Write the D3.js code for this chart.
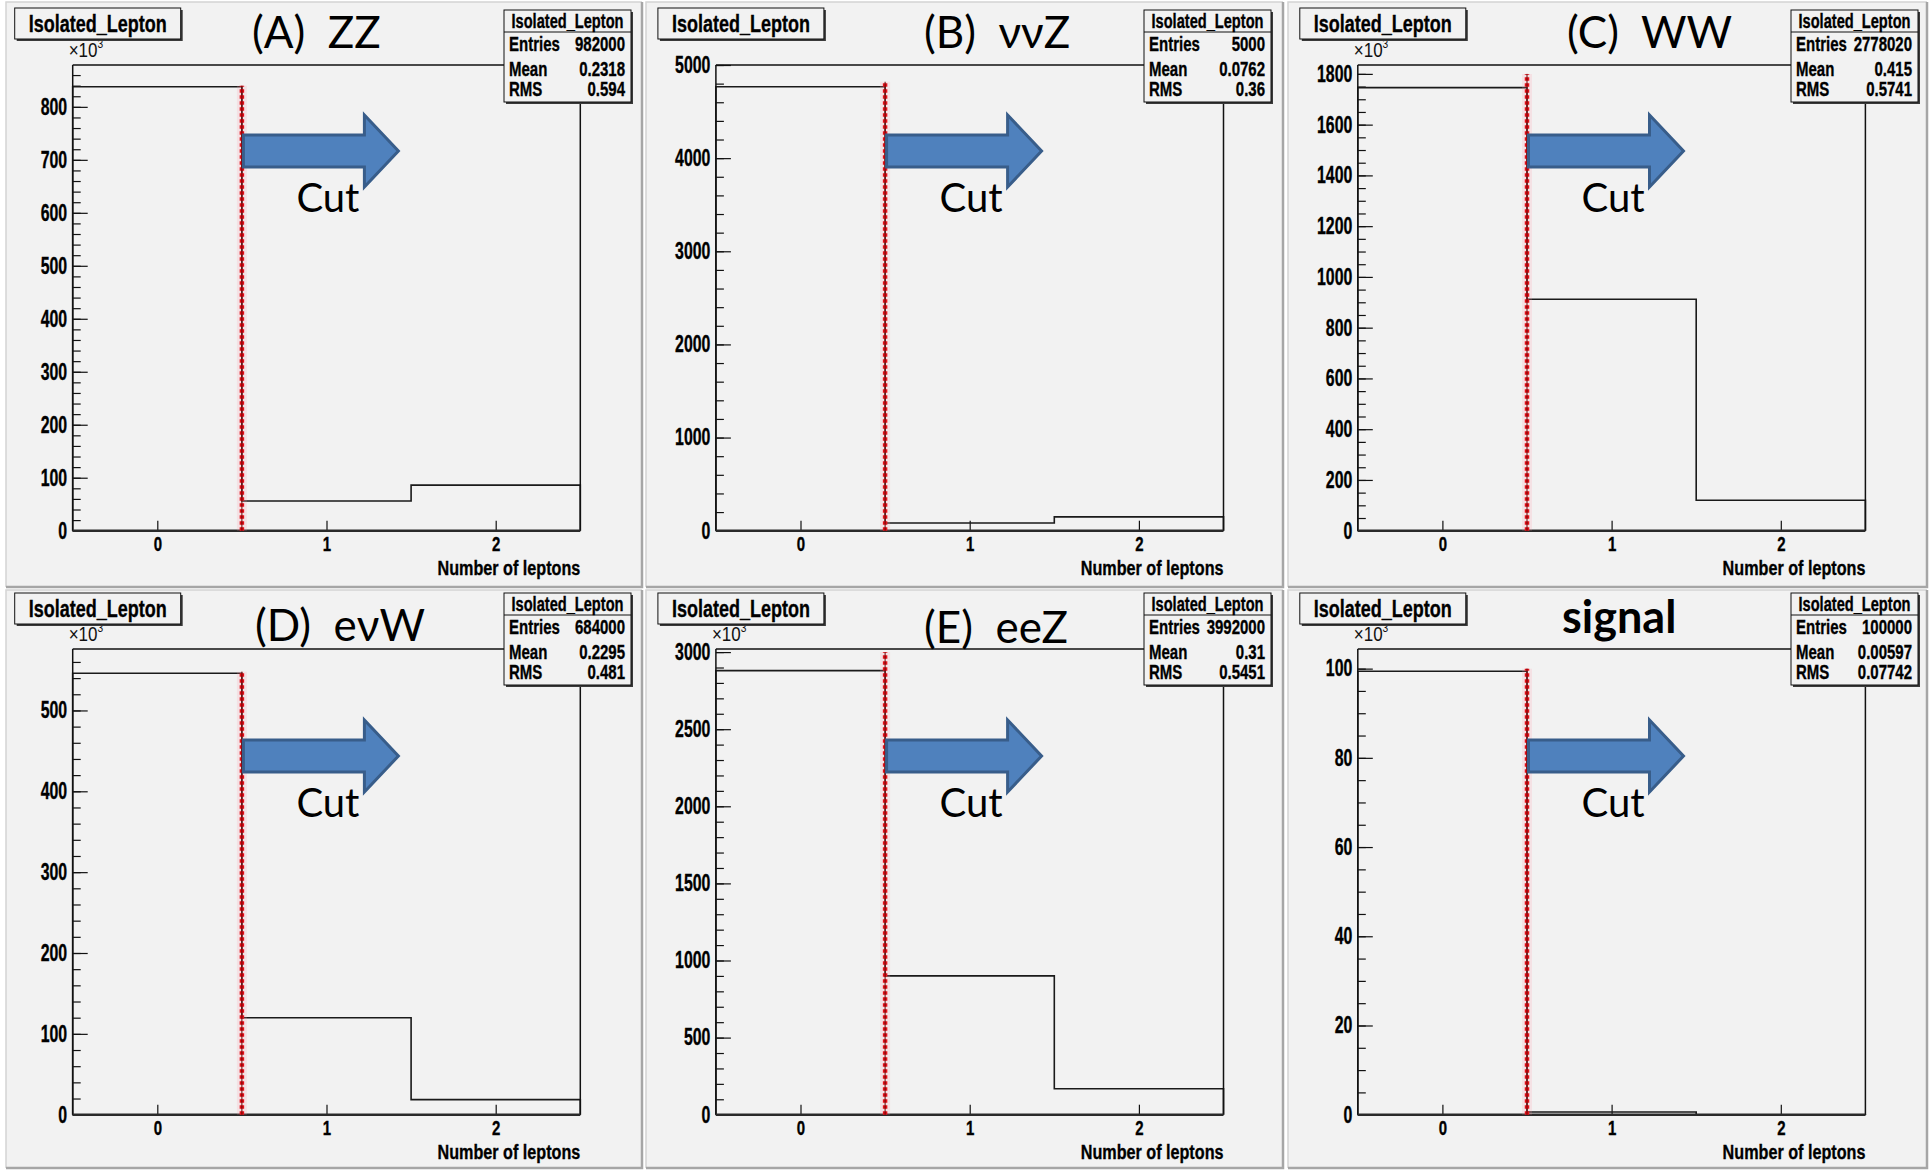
<!DOCTYPE html>
<html><head><meta charset="utf-8">
<script src="https://cdn.jsdelivr.net/npm/d3@7"></script>
<style>
html,body{margin:0;padding:0;background:#fff;}
svg{display:block;}
text{white-space:pre;}
</style></head><body>
<svg id="chart" width="1932" height="1171"></svg>
<script>
// ---------------- data ----------------
const panelIds = ["A", "B", "C", "D", "E", "F"];
const titles = ["(A)  ZZ", "(B)  \u03bd\u03bdZ", "(C)  WW", "(D)  e\u03bdW", "(E)  eeZ", "signal"];
const titleBold = [false, false, false, false, false, true];
const histName = "Isolated_Lepton";
const xLabel = "Number of leptons";
const binCenters = [0, 1, 2];
const xTickValues = [0, 1, 2];
// bin contents (in units shown on each y axis; x10^3 where marked)
const bin0 = [838, 4767, 1746, 546, 2880, 99.4];
const bin1 = [56, 82, 912, 120, 900, 0.59];
const bin2 = [86, 148, 120, 18.6, 168, 0.003];
const yMax = [879, 5000, 1835, 576, 3020, 104.4];
const yMajorStep = [100, 1000, 200, 100, 500, 20];
const yMinorStep = [20, 200, 50, 20, 100, 5];
const showExp = [true, false, true, true, true, true];
const statEntries = ["982000", "5000", "2778020", "684000", "3992000", "100000"];
const statMean = ["0.2318", "0.0762", "0.415", "0.2295", "0.31", "0.00597"];
const statRMS = ["0.594", "0.36", "0.5741", "0.481", "0.5451", "0.07742"];
const cutValue = 0.5;
const cutTop = [840, 4820, 1800, 548, 3000, 100];
const cutText = "Cut";

// ---------------- layout ----------------
const svg = d3.select("#chart");
const SANS = "'Liberation Sans',Arial,sans-serif";
const SX = 0.75; // horizontal compression -> condensed look
const CAL = "Lato,'Open Sans','DejaVu Sans',sans-serif";

const colPanelX = [6, 646, 1288], colPanelW = [636, 637, 639];
const rowPanelY = [2, 590], rowPanelH = [585, 578];
const colFrameL = [72.7, 715.9, 1357.8], frameW = 507.6;
const rowFrameT = [65, 649], frameH = 465.7;
const colStatsR = [631, 1271, 1918];
const statsW = 127, statsH = 92;
const rowStatsT = [10, 593];
const rowTitleBoxT = [8, 593];
const titleX = [252, 924, 1567, 255, 924, 1562];
const titleY = [48, 48, 48, 641, 643, 633];
const rowArrowY = [151, 756];
const rowCutY = [212, 817];

const PANEL_BG = "#f2f2f2";

function ntext(parent, x, y, s, size, anchor, bold = true, sx = SX) {
  const gg = parent.append("g").attr("transform", `translate(${x},${y}) scale(${sx},1)`);
  const t = gg.append("text").attr("text-anchor", anchor).attr("font-family", SANS)
    .attr("font-weight", bold ? "bold" : "normal").attr("font-size", size).attr("fill", "#000").text(s);
  if (bold) t.attr("stroke", "#000").attr("stroke-width", 0.35);
  return t;
}

panelIds.forEach((id, i) => {
  const col = i % 3, row = Math.floor(i / 3);
  const g = svg.append("g").attr("class", "panel-" + id);

  // pad background with bevel
  const px = colPanelX[col], py = rowPanelY[row], pw = colPanelW[col], ph = rowPanelH[row];
  g.append("rect").attr("x", px).attr("y", py).attr("width", pw).attr("height", ph).attr("fill", PANEL_BG);
  g.append("path").attr("d", `M${px},${py + ph} L${px},${py} L${px + pw},${py}`)
    .attr("fill", "none").attr("stroke", "#d4d4d4").attr("stroke-width", 1.5);
  g.append("path").attr("d", `M${px},${py + ph} L${px + pw},${py + ph} L${px + pw},${py}`)
    .attr("fill", "none").attr("stroke", "#a6a6a6").attr("stroke-width", 2.5);

  const fl = colFrameL[col], fr = fl + frameW;
  const ft = rowFrameT[row], fb = ft + frameH;
  const x = d3.scaleLinear().domain([-0.5, 2.5]).range([fl, fr]);
  const y = d3.scaleLinear().domain([0, yMax[i]]).range([fb, ft]);

  const sR = colStatsR[col], sL = sR - statsW, sT = rowStatsT[row], sB = sT + statsH;

  // y axis minor ticks
  const eps = 1e-9;
  const minors = d3.range(0, yMax[i] + eps, yMinorStep[i]);
  const majors = d3.range(0, yMax[i] + eps, yMajorStep[i]);
  const yMinorAxis = d3.axisLeft(y).tickValues(minors).tickSize(-8).tickFormat("");
  const gm = g.append("g").attr("transform", `translate(${fl},0)`).call(yMinorAxis);
  gm.select(".domain").remove();
  gm.selectAll("line").attr("stroke", "#111").attr("stroke-width", 1.2);

  const YSX = 0.69;
  const yAxis = d3.axisLeft(y).tickValues(majors).tickSize(-15).tickPadding(8).tickFormat(d3.format("d"));
  const ga = g.append("g").attr("transform", `translate(${fl},0)`).call(yAxis);
  ga.select(".domain").remove();
  ga.selectAll("line").attr("stroke", "#111").attr("stroke-width", 1.2);
  ga.selectAll("text").attr("font-family", SANS).attr("font-weight", "bold")
    .attr("font-size", 23).attr("fill", "#000").attr("stroke", "#000").attr("stroke-width", 0.35)
    .attr("transform", `scale(${YSX},1)`);

  // x axis
  const xAxis = d3.axisBottom(x).tickValues(xTickValues).tickSize(-10).tickPadding(6).tickFormat(d3.format("d"));
  const gx = g.append("g").attr("transform", `translate(0,${fb})`).call(xAxis);
  gx.select(".domain").remove();
  gx.selectAll("line").attr("stroke", "#111").attr("stroke-width", 1.2);
  gx.selectAll("text").attr("font-family", SANS).attr("font-weight", "bold")
    .attr("font-size", 20).attr("fill", "#000").attr("stroke", "#000").attr("stroke-width", 0.35)
    .attr("transform", `scale(${SX},1)`);

  ntext(g, fr, fb + 44, xLabel, 21, "end", true, 0.77);

  // exponent label
  if (showExp[i]) {
    const t = ntext(g, fl - 4, ft - 8, "", 20, "start", false, 0.85).attr("fill", "#111");
    t.append("tspan").text("\u00d710");
    t.append("tspan").attr("dy", -9).attr("font-size", 12).text("3");
  }

  // histogram outline
  const vals = [bin0[i], bin1[i], bin2[i]];
  const pts = [[-0.5, 0]];
  binCenters.forEach((c, k) => { pts.push([c - 0.5, vals[k]]); pts.push([c + 0.5, vals[k]]); });
  pts.push([2.5, 0]);
  const line = d3.line().x(d => x(d[0])).y(d => y(d[1]));
  g.append("path").attr("d", line(pts)).attr("fill", "none")
    .attr("stroke", "#1a1a1a").attr("stroke-width", 1.6);

  // frame
  g.append("line").attr("x1", fl).attr("x2", sL).attr("y1", ft).attr("y2", ft)
    .attr("stroke", "#111").attr("stroke-width", 1.3);
  g.append("line").attr("x1", fl).attr("x2", fl).attr("y1", ft).attr("y2", fb)
    .attr("stroke", "#111").attr("stroke-width", 1.5);
  g.append("line").attr("x1", fr).attr("x2", fr).attr("y1", sB).attr("y2", fb)
    .attr("stroke", "#111").attr("stroke-width", 1.5);
  g.append("line").attr("x1", fl).attr("x2", fr).attr("y1", fb).attr("y2", fb)
    .attr("stroke", "#2a2a2a").attr("stroke-width", 2.6);

  // cut line
  const cx = x(cutValue);
  g.append("line").attr("x1", cx).attr("x2", cx).attr("y1", fb).attr("y2", y(cutTop[i]))
    .attr("stroke", "#ff9aa8").attr("stroke-width", 10).attr("opacity", 0.18);
  g.append("line").attr("x1", cx).attr("x2", cx).attr("y1", fb).attr("y2", y(cutTop[i]))
    .attr("stroke", "#e3101a").attr("stroke-width", 4.5).attr("stroke-dasharray", "3.5 2.5");
  g.append("line").attr("x1", cx).attr("x2", cx).attr("y1", fb).attr("y2", y(cutTop[i]))
    .attr("stroke", "#6a0000").attr("stroke-width", 1);

  // arrow
  const ay = rowArrowY[row], ax = cx + 1.5;
  const arrow = `M${ax},${ay - 16} L${ax + 121},${ay - 16} L${ax + 121},${ay - 36} L${ax + 155},${ay}` +
    ` L${ax + 121},${ay + 36} L${ax + 121},${ay + 16} L${ax},${ay + 16} Z`;
  g.append("path").attr("d", arrow).attr("fill", "#4f81bd").attr("stroke", "#385d8a")
    .attr("stroke-width", 3).attr("stroke-linejoin", "miter");
  g.append("text").attr("x", cx + 54.5).attr("y", rowCutY[row]).attr("font-family", CAL)
    .attr("font-size", 40).attr("fill", "#000").text(cutText);

  // panel title
  g.append("text").attr("x", titleX[i]).attr("y", titleY[i]).attr("font-family", CAL)
    .attr("font-size", titleBold[i] ? 45 : 44).attr("font-weight", titleBold[i] ? "bold" : "normal")
    .attr("fill", "#000").text(titles[i]);

  // title box (top-left)
  const tbx = fl - 58, tby = rowTitleBoxT[row], tbw = 166, tbh = 31;
  g.append("rect").attr("x", tbx + 2).attr("y", tby + 2).attr("width", tbw).attr("height", tbh).attr("fill", "#3a3a3a");
  g.append("rect").attr("x", tbx).attr("y", tby).attr("width", tbw).attr("height", tbh)
    .attr("fill", PANEL_BG).attr("stroke", "#111").attr("stroke-width", 1);
  ntext(g, tbx + tbw / 2, tby + 24, histName, 24, "middle");

  // stats box
  g.append("rect").attr("x", sL + 2).attr("y", sT + 2).attr("width", statsW).attr("height", statsH).attr("fill", "#3a3a3a");
  g.append("rect").attr("x", sL).attr("y", sT).attr("width", statsW).attr("height", statsH)
    .attr("fill", PANEL_BG).attr("stroke", "#111").attr("stroke-width", 1);
  g.append("line").attr("x1", sL).attr("x2", sR).attr("y1", sT + 22).attr("y2", sT + 22)
    .attr("stroke", "#111").attr("stroke-width", 1);
  ntext(g, (sL + sR) / 2, sT + 17.5, histName, 19.5, "middle");
  const rowsLbl = ["Entries", "Mean", "RMS"];
  const rowsVal = [statEntries[i], statMean[i], statRMS[i]];
  const rowsY = [41, 65.5, 86];
  rowsLbl.forEach((lb, k) => {
    ntext(g, sL + 5, sT + rowsY[k], lb, 20, "start");
    ntext(g, sR - 6, sT + rowsY[k], rowsVal[k], 20, "end");
  });
});
</script>
</body></html>
